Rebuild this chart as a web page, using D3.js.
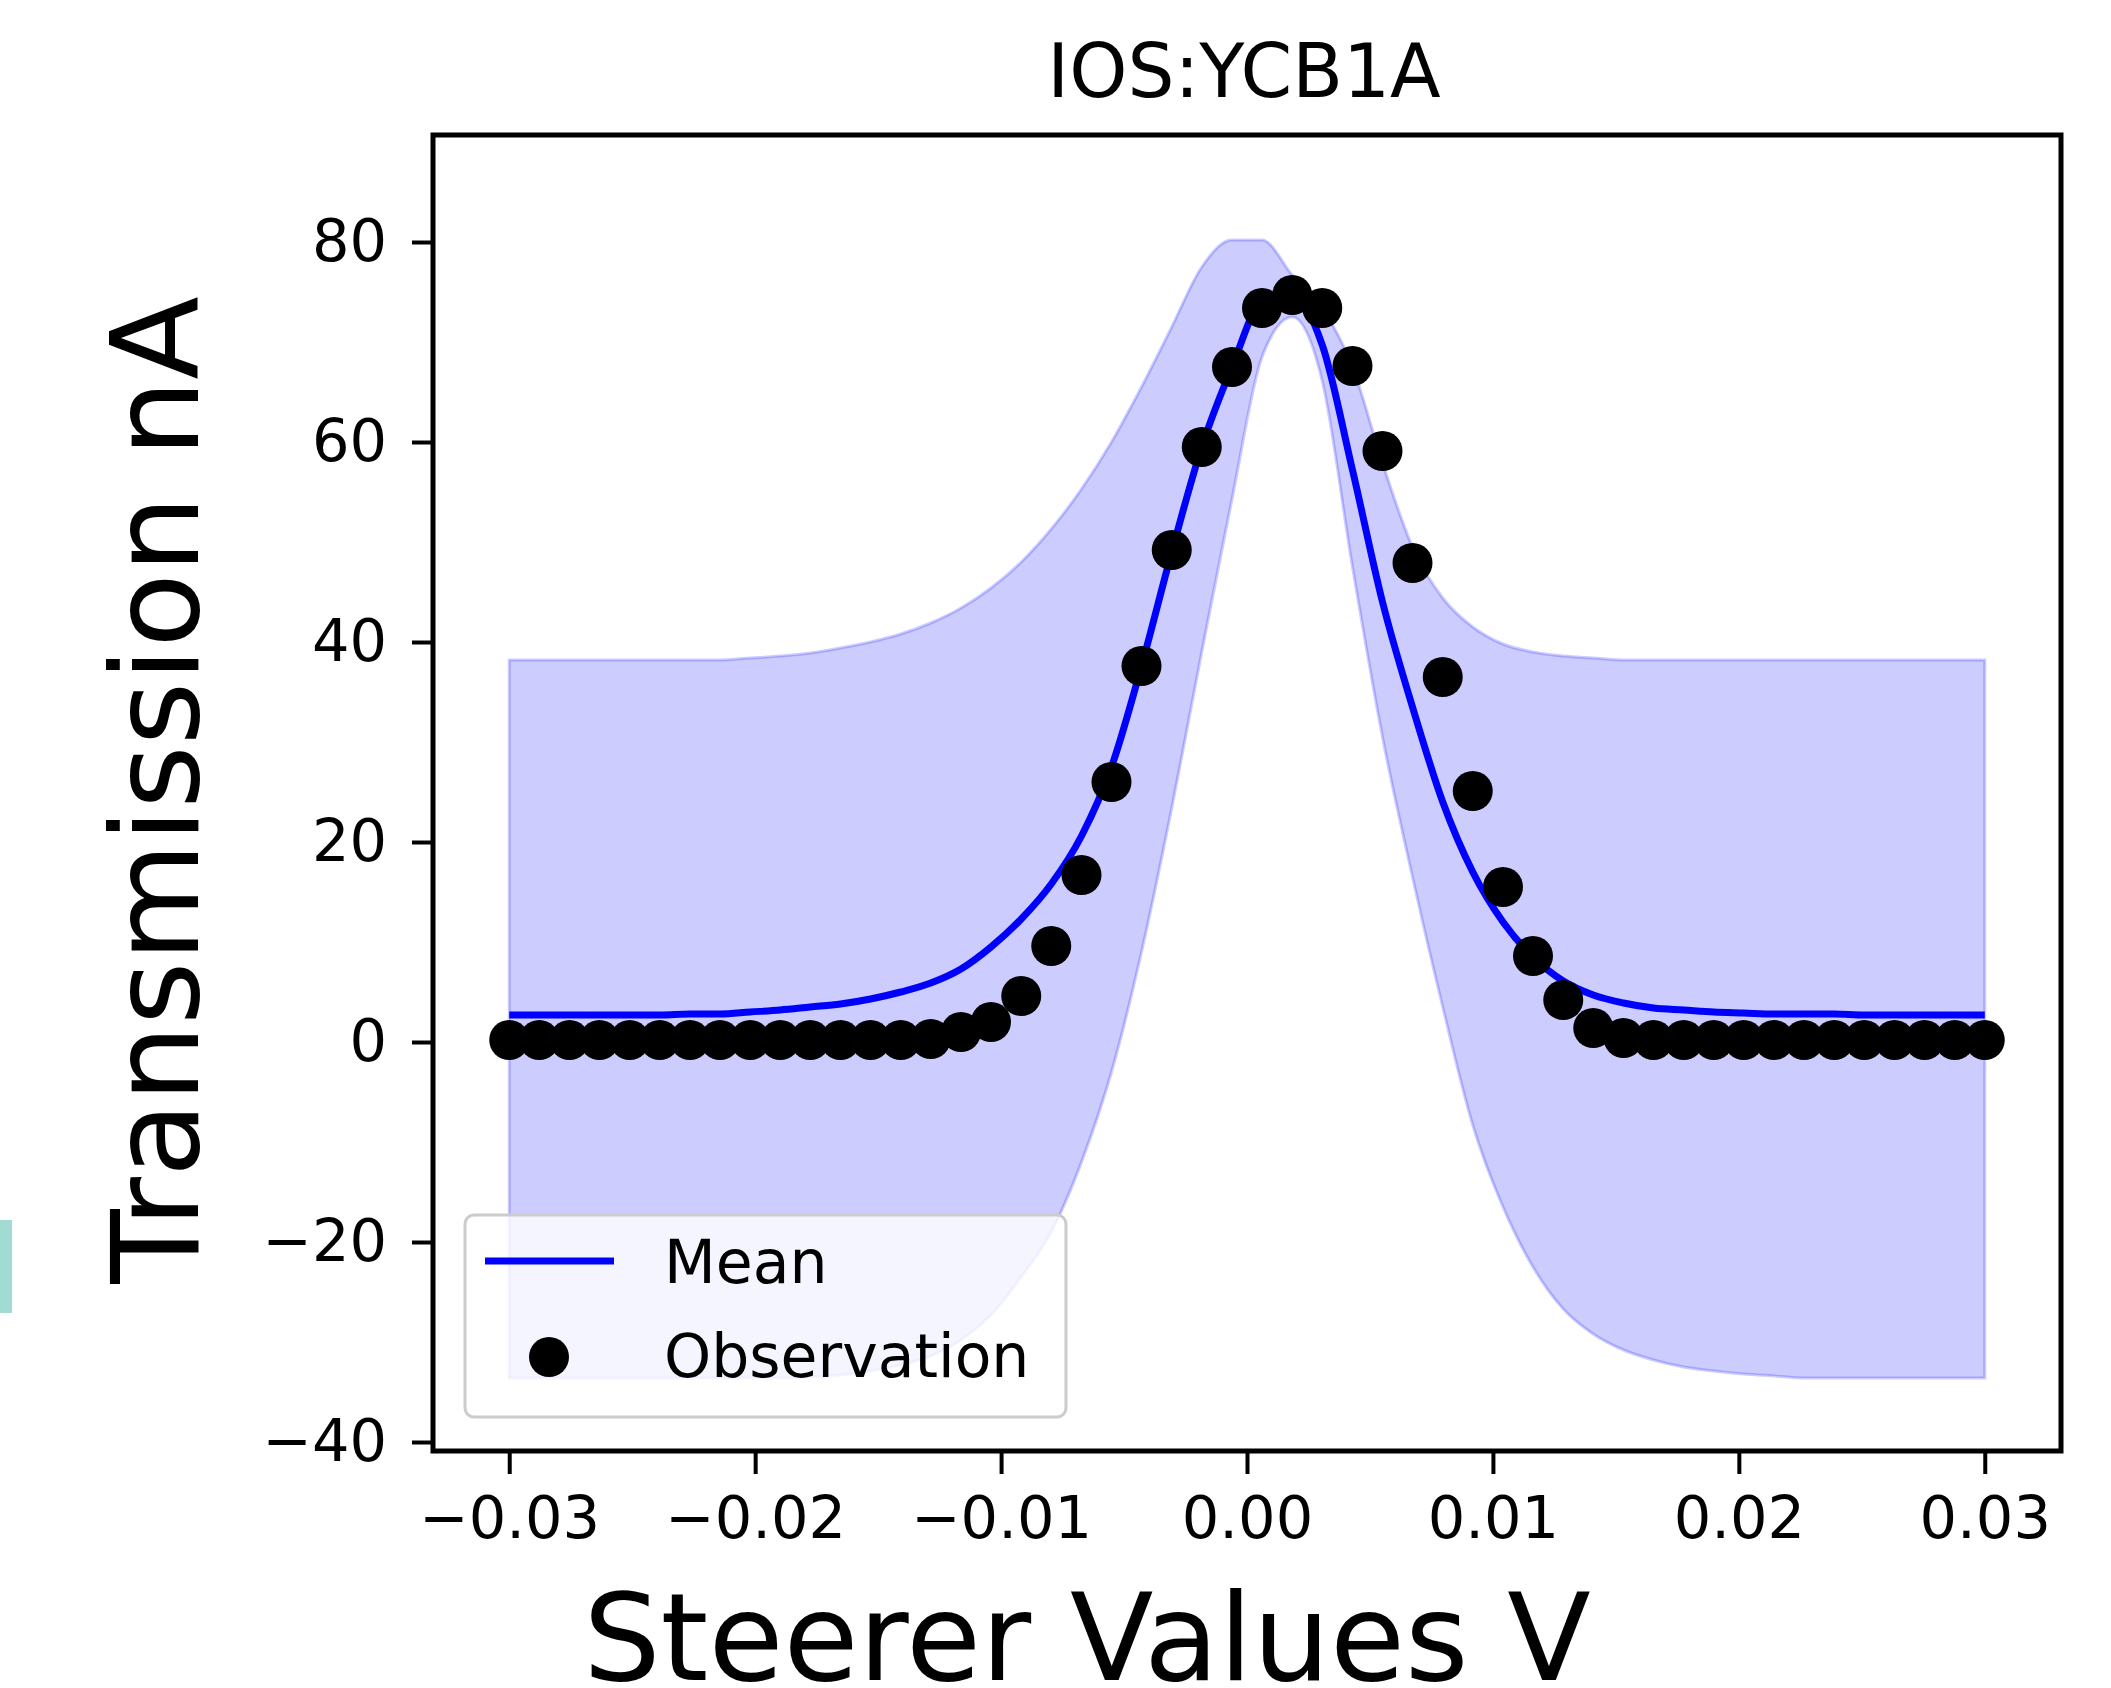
<!DOCTYPE html>
<html>
<head>
<meta charset="utf-8">
<script src="https://cdn.jsdelivr.net/npm/d3@7"></script>
<style>
  html, body { margin: 0; padding: 0; background: #ffffff; }
  svg { display: block; }
  text { font-family: "DejaVu Sans", sans-serif; }
</style>
</head>
<body>
<svg id="chart" width="2111" height="1688"></svg>
<script>
// ---------- data ----------
const title = "IOS:YCB1A";
const xLabel = "Steerer Values V";
const yLabel = "Transmission nA";
const legendLabels = ["Mean", "Observation"];

const steererValues = [-0.03, -0.02878, -0.02755, -0.02633, -0.0251, -0.02388, -0.02265, -0.02143, -0.0202, -0.01898,
  -0.01776, -0.01653, -0.01531, -0.01408, -0.01286, -0.01163, -0.01041, -0.00918, -0.00796, -0.00673,
  -0.00551, -0.00429, -0.00306, -0.00184, -0.00061, 0.00061, 0.00184, 0.00306, 0.00429, 0.00551,
  0.00673, 0.00796, 0.00918, 0.01041, 0.01163, 0.01286, 0.01408, 0.01531, 0.01653, 0.01776,
  0.01898, 0.0202, 0.02143, 0.02265, 0.02388, 0.0251, 0.02633, 0.02755, 0.02878, 0.03];

const observations = [0.2, 0.2, 0.2, 0.2, 0.2, 0.2, 0.2, 0.2, 0.2, 0.2,
  0.2, 0.2, 0.2, 0.2, 0.3, 1.0, 2.0, 4.6, 9.6, 16.7,
  26.0, 37.6, 49.2, 59.5, 67.5, 73.4, 74.7, 73.4, 67.6, 59.1,
  47.9, 36.5, 25.1, 15.5, 8.6, 4.2, 1.4, 0.4, 0.2, 0.2,
  0.2, 0.2, 0.2, 0.2, 0.2, 0.2, 0.2, 0.2, 0.2, 0.2];

const meanValues = [2.7, 2.7, 2.7, 2.7, 2.7, 2.7, 2.8, 2.8, 3.0, 3.2,
  3.5, 3.8, 4.3, 5.0, 5.9, 7.3, 9.5, 12.3, 15.8, 20.6,
  27.5, 37.6, 49.0, 59.5, 67.5, 74.0, 74.6, 69.7, 57.2, 44.0,
  33.5, 24.0, 17.0, 12.0, 8.5, 6.1, 4.7, 3.9, 3.4, 3.2,
  3.0, 2.9, 2.8, 2.8, 2.8, 2.7, 2.7, 2.7, 2.7, 2.7];

const upperValues = [38.2, 38.2, 38.2, 38.2, 38.2, 38.2, 38.2, 38.2, 38.4, 38.6,
  38.9, 39.4, 40.0, 40.8, 41.9, 43.4, 45.4, 48.0, 51.3, 55.3,
  60.0, 65.5, 71.5, 77.5, 80.2, 80.2, 76.7, 73.4, 67.5, 57.9,
  49.5, 44.4, 41.5, 39.8, 39.0, 38.6, 38.4, 38.2, 38.2, 38.2,
  38.2, 38.2, 38.2, 38.2, 38.2, 38.2, 38.2, 38.2, 38.2, 38.2];

const lowerValues = [-33.6, -33.6, -33.6, -33.6, -33.6, -33.6, -33.6, -33.6, -33.6, -33.6,
  -33.5, -33.3, -32.9, -32.3, -31.4, -29.8, -27.3, -23.5, -19.0, -12.0,
  -3.0, 9.0, 23.4, 39.0, 54.3, 68.5, 72.5, 66.1, 47.5, 30.5,
  16.5, 3.5, -8.3, -16.5, -22.5, -26.7, -29.2, -30.8, -31.8, -32.5,
  -32.9, -33.2, -33.4, -33.6, -33.6, -33.6, -33.6, -33.6, -33.6, -33.6];

const xTicks = [-0.03, -0.02, -0.01, 0.0, 0.01, 0.02, 0.03];
const xTickLabels = ["\u22120.03", "\u22120.02", "\u22120.01", "0.00", "0.01", "0.02", "0.03"];
const yTicks = [-40, -20, 0, 20, 40, 60, 80];
const yTickLabels = ["\u221240", "\u221220", "0", "20", "40", "60", "80"];

// ---------- layout ----------
const plot = { left: 433, right: 2061, top: 135, bottom: 1451 };
const tickFont = 59;
const legendFont = 60;
const labelFont = 122;

const svg = d3.select("#chart");

const x = d3.scaleLinear().domain([-0.0331, 0.0331]).range([plot.left, plot.right]);
const y = d3.scaleLinear().domain([-40.9, 90.7]).range([plot.bottom, plot.top]);

// decorative teal mark at far left
svg.append("rect").attr("x", 0).attr("y", 1220).attr("width", 12).attr("height", 93).attr("fill", "#a0dcd1");

// band
const bandData = steererValues.map((v, i) => ({ x: v, lo: lowerValues[i], hi: upperValues[i] }));
svg.append("path")
  .datum(bandData)
  .attr("d", d3.area().x(d => x(d.x)).y0(d => y(d.lo)).y1(d => y(d.hi)).curve(d3.curveMonotoneX))
  .attr("fill", "#0000ff").attr("fill-opacity", 0.2)
  .attr("stroke", "#0000ff").attr("stroke-opacity", 0.2).attr("stroke-width", 3);

// mean line
const meanData = steererValues.map((v, i) => ({ x: v, y: meanValues[i] }));
svg.append("path")
  .datum(meanData)
  .attr("d", d3.line().x(d => x(d.x)).y(d => y(d.y)).curve(d3.curveMonotoneX))
  .attr("fill", "none").attr("stroke", "#0000ff").attr("stroke-width", 7);

// observations
svg.append("g").selectAll("circle")
  .data(steererValues.map((v, i) => ({ x: v, y: observations[i] })))
  .join("circle")
  .attr("cx", d => x(d.x)).attr("cy", d => y(d.y)).attr("r", 20)
  .attr("fill", "#000000");

// frame
svg.append("rect")
  .attr("x", plot.left).attr("y", plot.top)
  .attr("width", plot.right - plot.left).attr("height", plot.bottom - plot.top)
  .attr("fill", "none").attr("stroke", "#000").attr("stroke-width", 5);

// axes
const yAxis = d3.axisLeft(y).tickValues(yTicks).tickFormat((d, i) => yTickLabels[i]).tickSize(21).tickPadding(25);
const gy = svg.append("g").attr("transform", `translate(${plot.left},0)`).call(yAxis);
const xAxis = d3.axisBottom(x).tickValues(xTicks).tickFormat((d, i) => xTickLabels[i]).tickSize(23).tickPadding(22);
const gx = svg.append("g").attr("transform", `translate(0,${plot.bottom})`).call(xAxis);
[gx, gy].forEach(g => {
  g.select(".domain").remove();
  g.selectAll(".tick line").attr("stroke", "#000").attr("stroke-width", 4);
  g.selectAll(".tick text").attr("font-size", tickFont).attr("fill", "#000")
    .attr("font-family", "DejaVu Sans");
});

// title
svg.append("text").attr("x", (plot.left + plot.right) / 2 - 3).attr("y", 97)
  .attr("text-anchor", "middle").attr("font-size", 74).attr("fill", "#000").text(title);

// axis labels
svg.append("text").attr("x", 1087).attr("y", 1680)
  .attr("text-anchor", "middle").attr("font-size", labelFont).attr("fill", "#000").text(xLabel);
svg.append("text").attr("transform", `translate(198,790) rotate(-90)`)
  .attr("text-anchor", "middle").attr("font-size", labelFont).attr("fill", "#000").text(yLabel);

// legend
const lg = svg.append("g");
lg.append("rect").attr("x", 465).attr("y", 1215).attr("width", 601).attr("height", 202)
  .attr("rx", 9).attr("fill", "#ffffff").attr("fill-opacity", 0.8)
  .attr("stroke", "#cccccc").attr("stroke-width", 3);
lg.append("line").attr("x1", 485).attr("x2", 614).attr("y1", 1261).attr("y2", 1261)
  .attr("stroke", "#0000ff").attr("stroke-width", 7);
lg.append("circle").attr("cx", 549).attr("cy", 1357).attr("r", 20).attr("fill", "#000");
lg.append("text").attr("x", 664).attr("y", 1283).attr("font-size", legendFont).attr("fill", "#000").text(legendLabels[0]);
lg.append("text").attr("x", 664).attr("y", 1377).attr("font-size", legendFont).attr("fill", "#000").text(legendLabels[1]);
</script>
</body>
</html>
